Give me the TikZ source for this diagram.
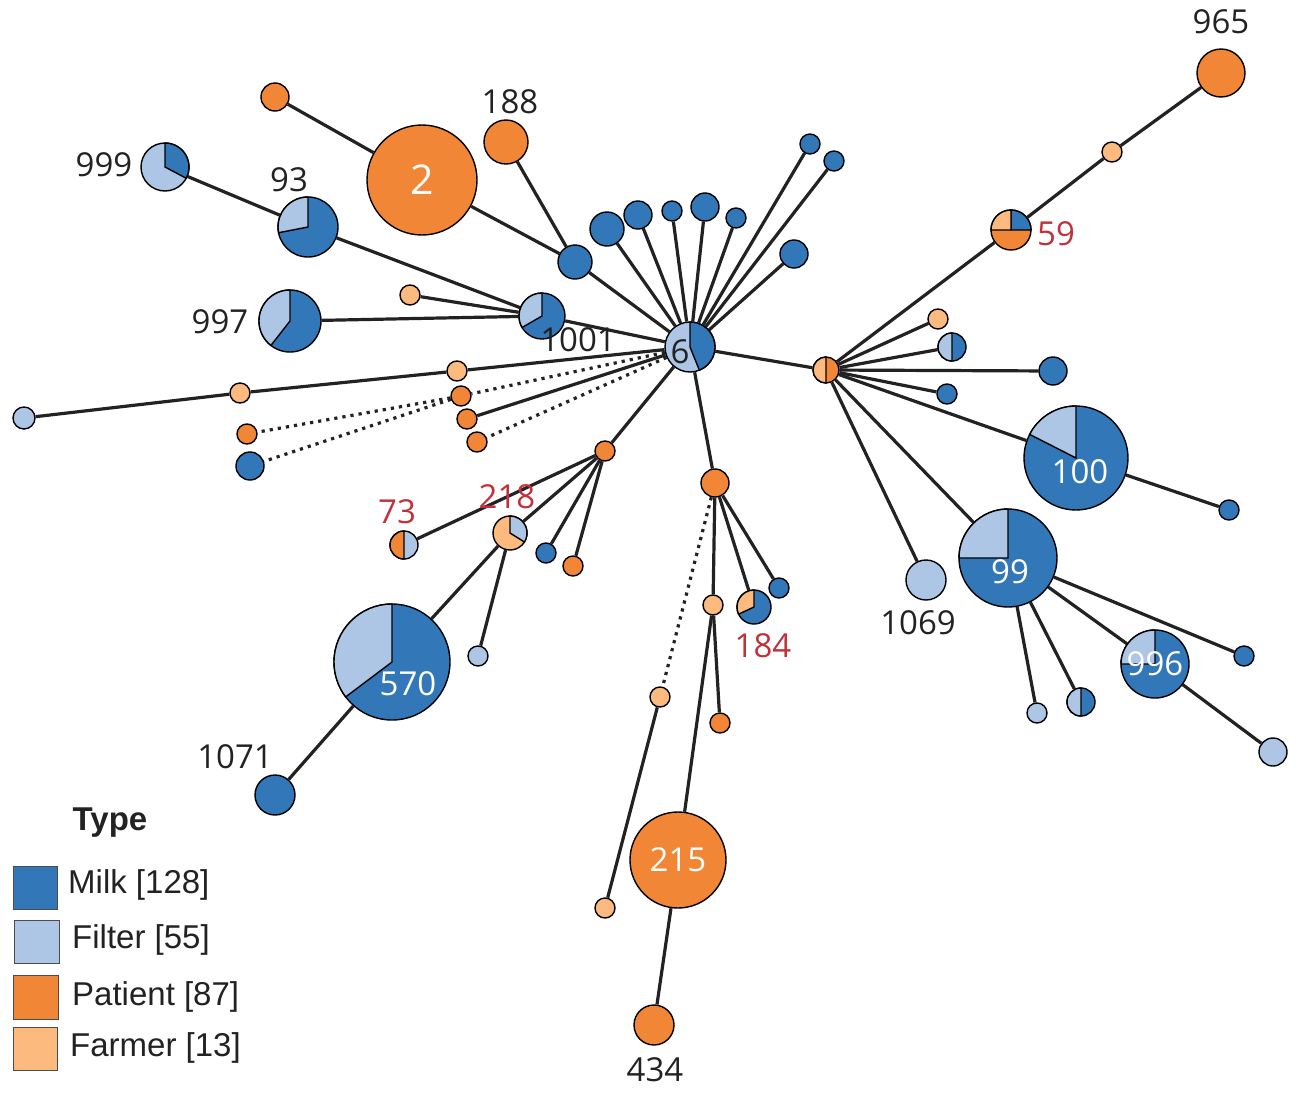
\documentclass[tikz,border=0pt]{standalone}
\usepackage{fontspec}
\newfontfamily\labfont{Open Sans}
\newfontfamily\legfont{Liberation Sans}
\definecolor{milk}{HTML}{3277B8}
\definecolor{filt}{HTML}{ADC6E5}
\definecolor{pat}{HTML}{F28637}
\definecolor{farm}{HTML}{FDBA7E}
\definecolor{redlab}{HTML}{C0323A}
\definecolor{txt}{HTML}{222222}
\tikzset{
  nd/.style={circle,draw=black,line width=1.4pt,inner sep=0pt},
  edge/.style={line width=3.2pt,draw=txt},
  dotedge/.style={line width=3.2pt,draw=txt,dash pattern=on 3.2pt off 5pt},
  lab/.style={font=\labfont\fontsize{33}{36}\selectfont,text=txt,inner sep=0pt},
  wlab/.style={lab,text=white},
  rlab/.style={lab,text=redlab},
  legtxt/.style={font=\legfont\fontsize{33}{36}\selectfont,text=txt,anchor=west,inner sep=0pt},
  legbox/.style={draw=black!70,line width=1pt}
}
\newcommand\nd[5]{\node[nd,fill=#5,minimum size=2*#4pt] (#1) at (#2,#3) {};}
\newcommand\pieseg[5]{\filldraw[fill=#5,draw=black,line width=1.4pt] (#1.center) -- ++(#3:#2pt) arc[start angle=#3,end angle=#4,radius=#2pt] -- cycle;}
\pgfdeclarelayer{bg}
\pgfsetlayers{bg,main}
\begin{document}
\begin{tikzpicture}[x=1pt,y=-1pt]
\useasboundingbox (0,0) rectangle (1299,1095);
% ---- nodes ----
\nd{c6}{690}{347}{25}{filt}
\nd{fp}{826}{370}{13}{pat}
\nd{n59}{1011}{230}{20}{pat}
\nd{f1}{1112}{152}{10}{farm}
\nd{n965}{1221}{73}{24}{pat}
\nd{r1}{938}{319}{10}{farm}
\nd{r2}{952}{347}{14}{milk}
\nd{r3}{1053}{371}{14}{milk}
\nd{r4}{947}{394}{10}{milk}
\nd{n100}{1076}{458}{52}{milk}
\nd{r5}{1229}{510}{10}{milk}
\nd{n99}{1008}{558}{49}{milk}
\nd{n1069}{926}{580}{20}{filt}
\nd{r6}{1244}{656}{10}{milk}
\nd{n996}{1155}{664}{34}{milk}
\nd{r7}{1273}{752}{14}{filt}
\nd{r8}{1037}{713}{10}{filt}
\nd{r9}{1081}{702}{14}{milk}
% top milk fan
\nd{t1}{810}{144}{10}{milk}
\nd{t2}{834}{161}{10}{milk}
\nd{t3}{794}{254}{14}{milk}
\nd{t4}{736}{218}{10}{milk}
\nd{t5}{705}{207}{14}{milk}
\nd{t6}{672}{211}{10}{milk}
\nd{t7}{638}{215}{14}{milk}
\nd{t8}{607}{229}{17}{milk}
\nd{t9}{575}{262}{17}{milk}
\nd{n2}{422}{180}{55}{pat}
\nd{n188}{506}{142}{22}{pat}
\nd{o1}{275}{97}{14}{pat}
% left upper
\nd{n1001}{542}{316}{23}{milk}
\nd{n93}{308}{227}{30}{milk}
\nd{n999}{165}{167}{24}{filt}
\nd{n997}{290}{321}{31}{milk}
\nd{l1}{410}{295}{10}{farm}
% left long
\nd{l2}{457}{371}{10}{farm}
\nd{l3}{240}{393}{10}{farm}
\nd{l4}{24}{418}{11}{filt}
\nd{l5}{461}{396}{10}{pat}
\nd{l6}{247}{434}{10}{pat}
\nd{l7}{250}{466}{14}{milk}
\nd{l8}{467}{419}{10}{pat}
\nd{l9}{477}{442}{10}{pat}
% lower left
\nd{b1}{605}{451}{10}{pat}
\nd{n73}{404}{545}{14}{filt}
\nd{n218}{510}{533}{17}{farm}
\nd{b2}{546}{553}{10}{milk}
\nd{b3}{573}{566}{10}{pat}
\nd{n570}{392}{662}{58}{milk}
\nd{b4}{478}{656}{10}{filt}
\nd{n1071}{275}{795}{20}{milk}
% lower middle
\nd{m1}{715}{483}{14}{pat}
\nd{m2}{713}{605}{10}{farm}
\nd{n184}{754}{607}{17}{milk}
\nd{m3}{779}{588}{10}{milk}
\nd{m4}{660}{697}{10}{farm}
\nd{m5}{720}{723}{10}{pat}
\nd{n215}{678}{860}{48}{pat}
\nd{n434}{654}{1025}{20}{pat}
\nd{m6}{605}{908}{10}{farm}
% ---- pie segments ----
\pieseg{c6}{25}{-68}{90}{milk}
\pieseg{n59}{20}{0}{90}{milk}
\pieseg{n59}{20}{90}{180}{farm}
\pieseg{fp}{13}{90}{270}{farm}
\pieseg{r2}{14}{90}{270}{filt}
\pieseg{r9}{14}{90}{270}{filt}
\pieseg{n73}{14}{90}{270}{pat}
\pieseg{n100}{52}{90}{153}{filt}
\pieseg{n99}{49}{90}{180}{filt}
\pieseg{n996}{34}{90}{180}{filt}
\pieseg{n999}{24}{-28}{90}{milk}
\pieseg{n93}{30}{90}{191}{filt}
\pieseg{n997}{31}{90}{232}{filt}
\pieseg{n1001}{23}{90}{210}{filt}
\pieseg{n218}{17}{-32}{90}{filt}
\pieseg{n570}{58}{90}{217}{filt}
\pieseg{n184}{17}{90}{205}{farm}
% ---- edges ----
\begin{pgfonlayer}{bg}
\foreach \a/\b in {c6/fp,fp/n59,n59/f1,f1/n965,fp/r1,fp/r2,fp/r3,fp/r4,fp/n100,fp/n99,fp/n1069,
  n100/r5,n99/r6,n99/n996,n99/r8,n99/r9,n996/r7,
  c6/t1,c6/t2,c6/t3,c6/t4,c6/t5,c6/t6,c6/t7,c6/t8,c6/t9,t9/n2,t9/n188,n2/o1,
  c6/n1001,n1001/n93,n93/n999,n1001/n997,n1001/l1,
  c6/l2,l2/l3,l3/l4,c6/l8,
  c6/b1,b1/n73,b1/n218,b1/b2,b1/b3,n218/n570,n218/b4,n570/n1071,
  c6/m1,m1/m2,m1/n184,m1/m3,m2/m5,m2/n215,n215/n434,m4/m6}
  {\draw[edge] (\a) -- (\b);}
\foreach \a/\b in {c6/l5,l5/l6,l5/l7,c6/l9,m1/m4}
  {\draw[dotedge] (\a) -- (\b);}
\end{pgfonlayer}
% ---- labels ----
\node[lab] (t965) at (1221,22) {965};
\node[rlab] (t59) at (1056,234) {59};
\node[lab] (t188) at (510,102) {188};
\node[wlab,font=\labfont\fontsize{41}{44}\selectfont] (t2) at (422,180) {2};
\node[lab] (t999) at (104,165) {999};
\node[lab] (t93) at (289,180) {93};
\node[lab] (t997) at (220,322) {997};
\node[lab] (t1001) at (578,340) {1001};
\node[lab] (t6) at (680,352) {6};
\node[rlab] (t73) at (397,512) {73};
\node[rlab] (t218) at (507,497) {218};
\node[wlab] (t570) at (408,684) {570};
\node[lab] (t1071) at (235,757) {1071};
\node[rlab] (t184) at (763,646) {184};
\node[wlab] (t215) at (678,860) {215};
\node[lab] (t434) at (655,1070) {434};
\node[lab] (t1069) at (918,623) {1069};
\node[wlab] (t99) at (1010,572) {99};
\node[wlab] (t100) at (1080,472) {100};
\node[wlab] (t996) at (1155,664) {996};
% ---- legend ----
\node[font=\legfont\bfseries\fontsize{33}{36}\selectfont,text=txt,inner sep=0pt] (ltype) at (110,823) {Type};
\filldraw[legbox,fill=milk] (13,866) rectangle (57,909);
\filldraw[legbox,fill=filt] (14,920) rectangle (59,963);
\filldraw[legbox,fill=pat] (13,975) rectangle (58,1019);
\filldraw[legbox,fill=farm] (13,1027) rectangle (57,1070);
\node[legtxt] (lm) at (68,885) {Milk [128]};
\node[legtxt] (lf) at (72,940) {Filter [55]};
\node[legtxt] (lp) at (72,997) {Patient [87]};
\node[legtxt] (lfa) at (70,1048) {Farmer [13]};
\end{tikzpicture}
\end{document}
